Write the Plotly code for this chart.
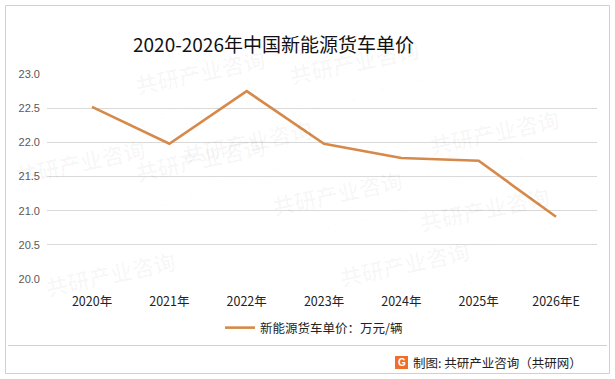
import plotly.graph_objects as go

categories = ["2020年", "2021年", "2022年", "2023年", "2024年", "2025年", "2026年E"]
unit_price = [22.52, 21.98, 22.75, 21.98, 21.77, 21.73, 20.91]
y_ticks = [20.0, 20.5, 21.0, 21.5, 22.0, 22.5, 23.0]
series_name = "新能源货车单价：万元/辆"
title_text = "2020-2026年中国新能源货车单价"
source_text = "制图: 共研产业咨询（共研网）"

CJK = "Noto Sans CJK SC"

W, H = 615, 379
L, R, T, B = 47, 18, 74, 100
PW, PH = W - L - R, H - T - B


def px(x):
    return (x - L) / PW


def py(y):
    return 1 - (y - T) / PH


fig = go.Figure()
fig.add_trace(go.Scatter(
    x=list(range(len(categories))), y=unit_price, mode="lines", name=series_name,
    line=dict(color="rgb(214,137,72)", width=2.6),
))

fig.update_layout(
    width=W, height=H,
    margin=dict(l=L, r=R, t=T, b=B, autoexpand=False),
    paper_bgcolor="white", plot_bgcolor="white",
    font=dict(family=CJK, color="#222"),
    showlegend=True,
    legend=dict(orientation="h", x=px(220), xanchor="left", y=py(328), yanchor="middle",
                font=dict(size=12.5, color="#222", family=CJK),
                bgcolor="rgba(0,0,0,0)", itemwidth=30),
    xaxis=dict(
        range=[-0.582, 6.53], tickmode="array",
        tickvals=list(range(len(categories))), ticktext=categories,
        showgrid=False, zeroline=False, showline=False, ticks="",
        ticklabelstandoff=13,
        tickfont=dict(size=12.5, color="#222", family=CJK),
    ),
    yaxis=dict(
        range=[20, 23], tickmode="array", tickvals=y_ticks,
        ticktext=[f"{v:.1f}" for v in y_ticks],
        showgrid=True, gridcolor="#d9d9d9", gridwidth=1, zeroline=False,
        showline=False, ticks="", ticklabelstandoff=6,
        tickfont=dict(size=11, color="#595959", family="Liberation Sans"),
    ),
)

# watermarks
for (x, y) in [(130, 40), (430, 30), (250, 110), (570, 100), (130, 215), (340, 205), (560, 265), (40, 330), (480, 320), (10, 130)]:
    fig.add_annotation(xref="paper", yref="paper", x=px(x), y=py(y),
                       text="<b>共研产业咨询</b><br><span style='font-size:12px'>w w w . g o n y n . c o m</span>",
                       showarrow=False, textangle=-12,
                       font=dict(size=22, color="rgba(0,0,0,0.03)", family=CJK))

# title
fig.add_annotation(xref="paper", yref="paper", x=px(131), xanchor="left",
                   y=py(43), yanchor="middle", showarrow=False,
                   text=title_text, font=dict(size=19, color="#111", family=CJK))

# source
fig.add_annotation(xref="paper", yref="paper", x=px(411), xanchor="left",
                   y=py(362), yanchor="middle", showarrow=False,
                   text=source_text, font=dict(size=12.5, color="#222", family=CJK))
# logo
fig.add_shape(type="rect", xref="paper", yref="paper",
              x0=px(395), x1=px(408), y0=py(369), y1=py(356),
              fillcolor="rgb(240,110,40)", line=dict(width=0))
fig.add_annotation(xref="paper", yref="paper", x=px(401.5), xanchor="center",
                   y=py(362.5), yanchor="middle", showarrow=False,
                   text="<b>G</b>", font=dict(size=10, color="white", family="Liberation Sans"))

# separator line and border
fig.add_shape(type="line", xref="paper", yref="paper",
              x0=px(8), x1=px(607), y0=py(345.5), y1=py(345.5),
              line=dict(color="#d0d0d0", width=1))
fig.add_shape(type="rect", xref="paper", yref="paper",
              x0=px(5.5), x1=px(609.5), y0=py(373.5), y1=py(5.5),
              line=dict(color="#d0d0d0", width=1), fillcolor="rgba(0,0,0,0)")

fig.write_html("out.html", config={"displayModeBar": False},
               post_script="document.body.style.margin='0px';document.body.style.overflow='hidden';")
